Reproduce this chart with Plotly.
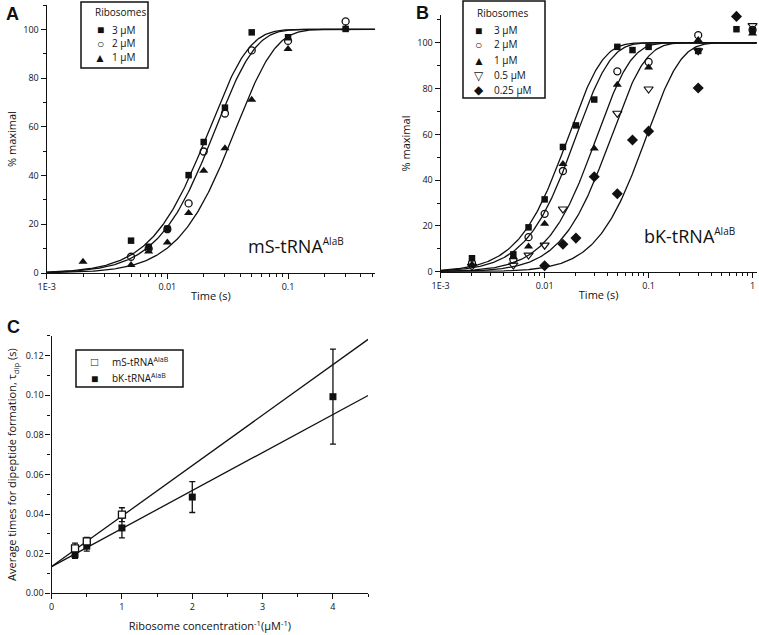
import numpy as np
import plotly.graph_objects as go

W, H = 759, 635

# ---------------- Panel A: mS-tRNA AlaB ----------------
a_labels = ["3 μM", "2 μM", "1 μM"]
a_time_3 = [0.002, 0.005, 0.007, 0.01, 0.015, 0.02, 0.03, 0.05, 0.1, 0.3]
a_pct_3 = [-1.6, 13.3, 10.8, 18.2, 40.2, 53.8, 67.9, 98.8, 96.8, 100.2]
a_time_2 = [0.005, 0.007, 0.01, 0.015, 0.02, 0.03, 0.05, 0.1, 0.3]
a_pct_2 = [6.7, 10.0, 18.0, 28.6, 49.9, 65.5, 91.4, 95.3, 103.3]
a_time_1 = [0.002, 0.005, 0.007, 0.01, 0.015, 0.02, 0.03, 0.05, 0.1, 0.3]
a_pct_1 = [4.6, 3.3, 8.8, 12.5, 24.6, 42.0, 51.2, 71.1, 92.0, 100.5]
a_tau = [0.0112, 0.0126, 0.0185]          # fitted step time constants (s)

# ---------------- Panel B: bK-tRNA AlaB ----------------
b_labels = ["3 μM", "2 μM", "1 μM", "0.5 μM", "0.25 μM"]
b_time_3 = [0.002, 0.005, 0.007, 0.01, 0.015, 0.02, 0.03, 0.05, 0.07, 0.1, 0.3, 0.7, 1.0]
b_pct_3 = [5.9, 7.6, 19.4, 31.6, 54.5, 63.9, 75.2, 98.2, 96.8, 98.2, 96.4, 105.9, 105.4]
b_time_2 = [0.002, 0.005, 0.007, 0.01, 0.015, 0.05, 0.1, 0.3, 1.0]
b_pct_2 = [3.8, 5.3, 15.1, 25.3, 44.0, 87.5, 91.6, 103.3, 105.6]
b_time_1 = [0.002, 0.005, 0.007, 0.01, 0.015, 0.03, 0.05, 0.1, 0.3, 1.0]
b_pct_1 = [3.2, 6.3, 11.0, 21.0, 47.0, 53.8, 81.7, 89.2, 101.2, 104.0]
b_time_05 = [0.002, 0.005, 0.007, 0.01, 0.015, 0.05, 0.1, 0.3, 1.0]
b_pct_05 = [2.4, 2.9, 7.3, 11.6, 27.4, 69.2, 79.8, 96.5, 107.5]
b_time_025 = [0.002, 0.01, 0.015, 0.02, 0.03, 0.05, 0.07, 0.1, 0.3, 0.7]
b_pct_025 = [-0.8, 2.6, 12.0, 14.7, 41.5, 34.1, 57.5, 61.4, 80.2, 111.5]
b_tau = [0.0085, 0.0101, 0.016, 0.022, 0.048]   # fitted step time constants (s)

# ---------------- Panel C ----------------
c_ms_x = [0.333, 0.5, 1.0]
c_ms_y = [0.0227, 0.0262, 0.0397]
c_ms_err = [0.0026, 0.0020, 0.0035]
c_bk_x = [0.333, 0.5, 1.0, 2.0, 4.0]
c_bk_y = [0.0196, 0.0238, 0.0330, 0.0486, 0.0993]
c_bk_err = [0.0020, 0.0025, 0.0050, 0.0078, 0.0240]
c_fit_intercept = [0.0135, 0.0135]
c_fit_slope = [0.0255, 0.0192]
c_labels = ["mS-tRNA<sup>AlaB</sup>", "bK-tRNA<sup>AlaB</sup>"]

FONT = "Open Sans"
BLACK = "#111111"


def two_step(t, tau):
    x = np.asarray(t) / tau
    return 100.0 * (1.0 - (1.0 + x) * np.exp(-x))


fig = go.Figure()

# marker styles
sq = dict(symbol="square", size=6.5, color=BLACK)
circ = dict(symbol="circle-open", size=7, color=BLACK, line=dict(width=1.3, color=BLACK))
tri = dict(symbol="triangle-up", size=8, color=BLACK)
dtri = dict(symbol="triangle-down-open", size=8, color=BLACK, line=dict(width=1.2, color=BLACK))
dia = dict(symbol="diamond", size=8.5, color=BLACK)

# ---- Panel A ----
t_a = np.logspace(-3, -0.28, 300)
for tau in a_tau:
    fig.add_trace(go.Scatter(x=t_a, y=two_step(t_a, tau), mode="lines",
                             line=dict(color=BLACK, width=1.3), xaxis="x", yaxis="y",
                             showlegend=False, hoverinfo="skip"))
for xs, ys, mk in [(a_time_3, a_pct_3, sq), (a_time_2, a_pct_2, circ), (a_time_1, a_pct_1, tri)]:
    fig.add_trace(go.Scatter(x=xs, y=ys, mode="markers", marker=mk, xaxis="x", yaxis="y",
                             showlegend=False, cliponaxis=False))

# ---- Panel B ----
t_b = np.logspace(-3, 0.04, 300)
for tau in b_tau:
    fig.add_trace(go.Scatter(x=t_b, y=two_step(t_b, tau), mode="lines",
                             line=dict(color=BLACK, width=1.3), xaxis="x2", yaxis="y2",
                             showlegend=False, hoverinfo="skip"))
for xs, ys, mk in [(b_time_3, b_pct_3, sq), (b_time_2, b_pct_2, circ), (b_time_1, b_pct_1, tri),
                   (b_time_05, b_pct_05, dtri), (b_time_025, b_pct_025, dia)]:
    fig.add_trace(go.Scatter(x=xs, y=ys, mode="markers", marker=mk, xaxis="x2", yaxis="y2",
                             showlegend=False, cliponaxis=False))

# ---- Panel C ----
xc = np.array([0.0, 4.5])
for b0, m in zip(c_fit_intercept, c_fit_slope):
    fig.add_trace(go.Scatter(x=xc, y=b0 + m * xc, mode="lines", line=dict(color=BLACK, width=1.3),
                             xaxis="x3", yaxis="y3", showlegend=False, hoverinfo="skip"))
fig.add_trace(go.Scatter(x=c_bk_x, y=c_bk_y, mode="markers",
                         marker=dict(symbol="square", size=7, color=BLACK),
                         error_y=dict(type="data", array=c_bk_err, color=BLACK, thickness=1.3, width=3),
                         xaxis="x3", yaxis="y3", showlegend=False, cliponaxis=False))
fig.add_trace(go.Scatter(x=c_ms_x, y=c_ms_y, mode="markers",
                         marker=dict(symbol="square", size=7, color="white", line=dict(width=1.3, color=BLACK)),
                         error_y=dict(type="data", array=c_ms_err, color=BLACK, thickness=1.3, width=3),
                         xaxis="x3", yaxis="y3", showlegend=False, cliponaxis=False))


def decade_minor(lo, hi):
    return [m * 10.0 ** e for e in range(lo, hi) for m in range(2, 10)]


axis_common = dict(showline=True, linecolor=BLACK, linewidth=1.3, ticks="outside", ticklen=5,
                   tickwidth=1.2, tickcolor=BLACK, showgrid=False, zeroline=False, automargin=False,
                   tickfont=dict(family=FONT, size=9, color=BLACK),
                   title_font=dict(family=FONT, size=11, color=BLACK))

fig.update_layout(
    width=W, height=H, margin=dict(l=0, r=0, t=0, b=0, autoexpand=False),
    paper_bgcolor="white", plot_bgcolor="white",
    font=dict(family=FONT, color=BLACK),
    xaxis=dict(axis_common, type="log", domain=[0.0615, 0.494], range=[-3, -0.28], anchor="y",
               tickvals=[0.001, 0.01, 0.1], ticktext=["1E-3", "0.01", "0.1"],
               minor=dict(ticks="outside", ticklen=3, tickcolor=BLACK, tickvals=decade_minor(-3, 0)),
               title=dict(text="Time (s)", standoff=0)),
    yaxis=dict(axis_common, domain=[0.570, 0.992], range=[0, 110], anchor="x",
               tickvals=[0, 20, 40, 60, 80, 100],
               minor=dict(ticks="outside", ticklen=3, tickcolor=BLACK, dtick=10),
               title=dict(text="% maximal", standoff=4)),
    xaxis2=dict(axis_common, type="log", domain=[0.5806, 0.997], range=[-3, 0.04], anchor="y2",
                tickvals=[0.001, 0.01, 0.1, 1], ticktext=["1E-3", "0.01", "0.1", "1"],
                minor=dict(ticks="outside", ticklen=3, tickcolor=BLACK, tickvals=decade_minor(-3, 0)),
                title=dict(text="Time (s)", standoff=0)),
    yaxis2=dict(axis_common, domain=[0.572, 0.976], range=[0, 112], anchor="x2",
                tickvals=[0, 20, 40, 60, 80, 100],
                minor=dict(ticks="outside", ticklen=3, tickcolor=BLACK, dtick=10),
                title=dict(text="% maximal", standoff=4)),
    xaxis3=dict(axis_common, domain=[0.068, 0.485], range=[0, 4.5], anchor="y3",
                tickvals=[0, 1, 2, 3, 4],
                minor=dict(ticks="outside", ticklen=3, tickcolor=BLACK, dtick=0.5),
                title=dict(text="Ribosome concentration<sup>-1</sup>(μM<sup>-1</sup>)", standoff=10)),
    yaxis3=dict(axis_common, domain=[0.0657, 0.471], range=[0, 0.13], anchor="x3",
                tickvals=[0, 0.02, 0.04, 0.06, 0.08, 0.10, 0.12], tickformat=".2f",
                minor=dict(ticks="outside", ticklen=3, tickcolor=BLACK, dtick=0.01),
                title=dict(text="Average times for dipeptide formation, τ<sub>dip</sub> (s)", standoff=6)),
)

ann = []


def px(x, y):
    return x / W, 1 - y / H


def text(x, y, s, size=10, anchor="left", bold=False):
    X, Y = px(x, y)
    ann.append(dict(x=X, y=Y, xref="paper", yref="paper", text=("<b>%s</b>" % s) if bold else s,
                    showarrow=False, xanchor=anchor, yanchor="middle",
                    font=dict(family=FONT if not bold else "Liberation Sans", size=size, color=BLACK)))


# panel letters
text(4, 14, "A", 18, bold=True)
text(414, 13, "B", 18, bold=True)
text(5, 327, "C", 18, bold=True)

# in-plot labels
SUP = "<sup><span style='font-size:10px'>AlaB</span></sup>"
text(246, 246, "mS-tRNA" + SUP, 18)
text(642, 236, "bK-tRNA" + SUP, 18)

shapes = []


def box(x0, y0, x1, y1):
    X0, Y0 = px(x0, y0)
    X1, Y1 = px(x1, y1)
    shapes.append(dict(type="rect", xref="paper", yref="paper", x0=X0, y0=Y1, x1=X1, y1=Y0,
                       line=dict(color=BLACK, width=1.5), fillcolor="white", layer="above"))


# Legend A
box(81, 2, 148, 68)
text(120, 12, "Ribosomes", 10, anchor="center")
for lab, g, yy in zip(a_labels, ["■", "○", "▲"], [29.7, 43.3, 57.3]):
    text(100, yy, g, 12, anchor="center")
    text(110, yy, lab, 10)

# Legend B
box(463, 1, 545, 98)
text(502, 13, "Ribosomes", 10, anchor="center")
for lab, g, yy in zip(b_labels, ["■", "○", "▲", "▽", "◆"], [30, 44.5, 60, 75, 90]):
    text(479, yy, g, 12, anchor="center")
    text(492, yy, lab, 10)

# Legend C
box(76, 350, 183, 387)
for lab, g, yy in zip(c_labels, ["□", "■"], [361.7, 378.3]):
    text(94, yy, g, 12, anchor="center")
    text(110, yy, lab, 10)

fig.update_layout(annotations=ann, shapes=shapes)
fig.write_html("out.html", config={"displayModeBar": False},
               post_script="document.body.style.margin='0px';")
